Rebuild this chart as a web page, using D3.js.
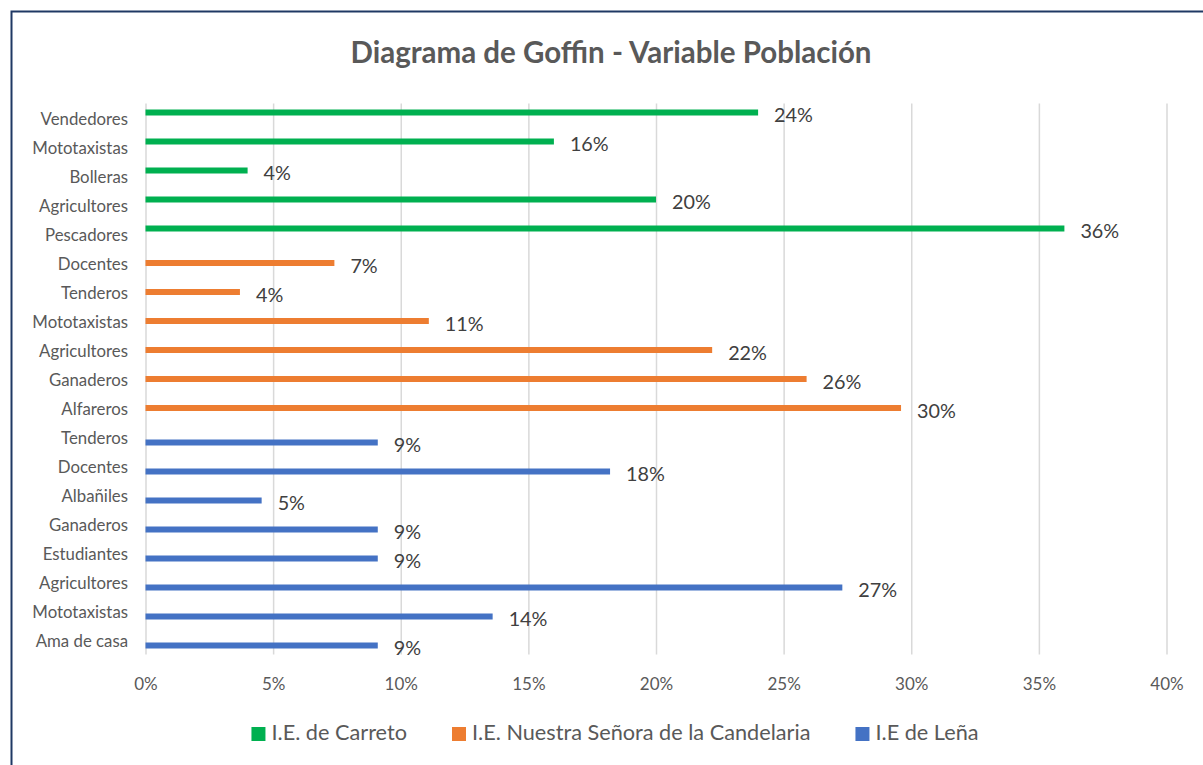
<!DOCTYPE html>
<html>
<head>
<meta charset="utf-8">
<script src="https://cdn.jsdelivr.net/npm/d3@7"></script>
<style>
  body { margin: 0; background: #fff; }
  svg { display: block; font-family: Lato, "Noto Sans", sans-serif; }
</style>
</head>
<body>
<svg id="chart" width="1203" height="765"></svg>
<script>
// Series names, in legend order
const seriesNames = ["I.E. de Carreto", "I.E. Nuestra Señora de la Candelaria", "I.E de Leña"];
const seriesColors = ["#00b050", "#ed7d31", "#4472c4"];

// Occupations and shares for each school
const carretoCats = ["Vendedores", "Mototaxistas", "Bolleras", "Agricultores", "Pescadores"];
const carretoVals = [0.24, 0.16, 0.04, 0.20, 0.36];

const candelariaCats = ["Docentes", "Tenderos", "Mototaxistas", "Agricultores", "Ganaderos", "Alfareros"];
const candelariaVals = [0.074, 0.037, 0.111, 0.222, 0.259, 0.296];

const lenaCats = ["Tenderos", "Docentes", "Albañiles", "Ganaderos", "Estudiantes", "Agricultores", "Mototaxistas", "Ama de casa"];
const lenaVals = [0.091, 0.182, 0.0455, 0.091, 0.091, 0.273, 0.136, 0.091];

// Axis ticks
const xTicks = [0, 0.05, 0.10, 0.15, 0.20, 0.25, 0.30, 0.35, 0.40];

const title = "Diagrama de Goffin - Variable Población";

// Flatten into rows (top to bottom)
const groups = [
  { series: 0, cats: carretoCats, vals: carretoVals },
  { series: 1, cats: candelariaCats, vals: candelariaVals },
  { series: 2, cats: lenaCats, vals: lenaVals }
];
const rows = [];
groups.forEach(g => g.cats.forEach((c, i) => rows.push({
  key: g.series + "|" + c, cat: c, value: g.vals[i], series: g.series
})));

const svg = d3.select("#chart");
const W = 1203, H = 765;

// Chart frame
svg.append("rect")
  .attr("x", 11.5).attr("y", 11.5)
  .attr("width", W + 20).attr("height", H + 20)
  .attr("fill", "#fff")
  .attr("stroke", "#1f3864").attr("stroke-width", 2);

// Title
svg.append("text")
  .attr("x", 611).attr("y", 63)
  .attr("text-anchor", "middle")
  .attr("font-weight", "bold")
  .attr("font-size", 29.5)
  .attr("fill", "#595959")
  .text(title);

const plotTop = 103.5, plotBottom = 654.5;
const x = d3.scaleLinear().domain([0, 0.40]).range([145.5, 1166.5]);
const y = d3.scaleBand().domain(rows.map(r => r.key)).range([plotTop, plotBottom]).padding(0);
const ySub = d3.scaleBand().domain(d3.range(seriesNames.length)).range([-8.25, 8.25]).padding(0);

// Vertical gridlines
const grid = svg.append("g")
  .attr("transform", `translate(0,${plotBottom})`)
  .call(d3.axisBottom(x).tickValues(xTicks).tickSize(-(plotBottom - plotTop)).tickFormat(""));
grid.select(".domain").remove();
grid.selectAll(".tick line").attr("stroke", "#d9d9d9").attr("stroke-width", 1.5);

// Tick labels
const xAxis = svg.append("g")
  .attr("transform", `translate(0,${plotBottom})`)
  .call(d3.axisBottom(x).tickValues(xTicks).tickSize(0).tickPadding(0).tickFormat(d3.format(".0%")));
xAxis.select(".domain").remove();
xAxis.selectAll("text")
  .attr("y", 30).attr("dy", "0.35em")
  .attr("font-family", "Lato, 'Noto Sans', sans-serif")
  .attr("font-size", 17)
  .attr("fill", "#595959");

// Category labels
const yAxis = svg.append("g")
  .attr("transform", "translate(128,1)")
  .call(d3.axisLeft(y).tickSize(0).tickPadding(0).tickFormat(k => k.split("|")[1]));
yAxis.select(".domain").remove();
yAxis.selectAll("text")
  .attr("dy", "0.35em")
  .attr("font-family", "Lato, 'Noto Sans', sans-serif")
  .attr("font-size", 16.8)
  .attr("fill", "#595959");

const barH = 6;
const barCenter = r => y(r.key) + y.bandwidth() / 2 + ySub(r.series) + ySub.bandwidth() / 2;

// Bars
svg.append("g").selectAll("rect")
  .data(rows).join("rect")
  .attr("x", x(0))
  .attr("y", r => barCenter(r) - barH / 2)
  .attr("width", r => x(r.value) - x(0))
  .attr("height", barH)
  .attr("fill", r => seriesColors[r.series]);

// Value labels
svg.append("g").selectAll("text")
  .data(rows).join("text")
  .attr("x", r => x(r.value) + 16)
  .attr("y", r => barCenter(r) + 4.5)
  .attr("dominant-baseline", "middle")
  .attr("font-size", 19.8)
  .attr("fill", "#404040")
  .text(r => d3.format(".0%")(r.value));

// Legend
const legend = svg.append("g").attr("font-size", 21.7).attr("fill", "#595959");
const items = legend.selectAll("g").data(seriesNames).join("g");
items.append("rect").attr("width", 14).attr("height", 14).attr("y", -7)
  .attr("fill", (d, i) => seriesColors[i]);
items.append("text").attr("x", 20).attr("dominant-baseline", "middle").text(d => d);
const gap = 45;
const widths = items.nodes().map(n => n.getBBox().width);
const total = d3.sum(widths) + gap * (widths.length - 1);
let cx = 615 - total / 2;
items.attr("transform", (d, i) => {
  const t = `translate(${cx},734)`;
  cx += widths[i] + gap;
  return t;
});
</script>
</body>
</html>
